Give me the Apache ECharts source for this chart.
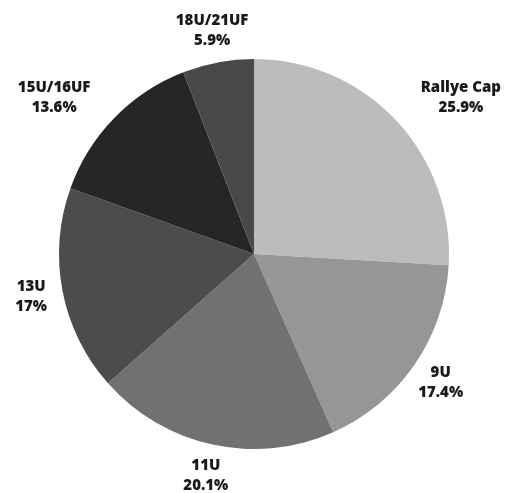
<!DOCTYPE html>
<html>
<head>
<meta charset="utf-8">
<script src="https://cdn.jsdelivr.net/npm/echarts@6/dist/echarts.min.js"></script>
<style>
html,body{margin:0;padding:0;background:#fff;}
#chart{width:507px;height:493px;}
</style>
</head>
<body>
<div id="chart"></div>
<script>
const categories = ['Rallye Cap', '9U', '11U', '13U', '15U/16UF', '18U/21UF'];
const values = [25.9, 17.4, 20.1, 17, 13.6, 5.9];
const valueLabels = ['25.9%', '17.4%', '20.1%', '17%', '13.6%', '5.9%'];
const colors = ['#bcbcbe', '#969698', '#717073', '#4c4b4e', '#262527', '#49484b'];
const lineLen = [33, 32, 32, 32, 29.5, 32];
const lineLen2 = [41, 0, 0, 0, 39, 0];

const chart = echarts.init(document.getElementById('chart'));
const data = categories.map((name, i) => ({
  name: name,
  value: values[i],
  itemStyle: { color: colors[i] },
  labelLine: { length: lineLen[i], length2: lineLen2[i] }
}));

chart.setOption({
  animation: false,
  series: [{
    type: 'pie',
    center: [254, 254],
    radius: [0, 195],
    startAngle: 90,
    clockwise: true,
    avoidLabelOverlap: false,
    itemStyle: { borderWidth: 0 },
    emphasis: { disabled: true },
    label: {
      show: true,
      position: 'outside',
      width: 120,
      formatter: p => p.name + '\n' + valueLabels[p.dataIndex],
      fontFamily: 'Open Sans',
      fontWeight: 800,
      fontSize: 15,
      lineHeight: 20,
      color: '#1a1a1a'
    },
    labelLine: {
      show: true,
      lineStyle: { opacity: 0 }
    },
    labelLayout: function (params) {
      const pts = params.labelLinePoints;
      if (!pts) return {};
      const end = pts[pts.length - 1];
      return { x: end[0], y: end[1], align: 'center', verticalAlign: 'middle' };
    },
    data: data
  }]
});
</script>
</body>
</html>
